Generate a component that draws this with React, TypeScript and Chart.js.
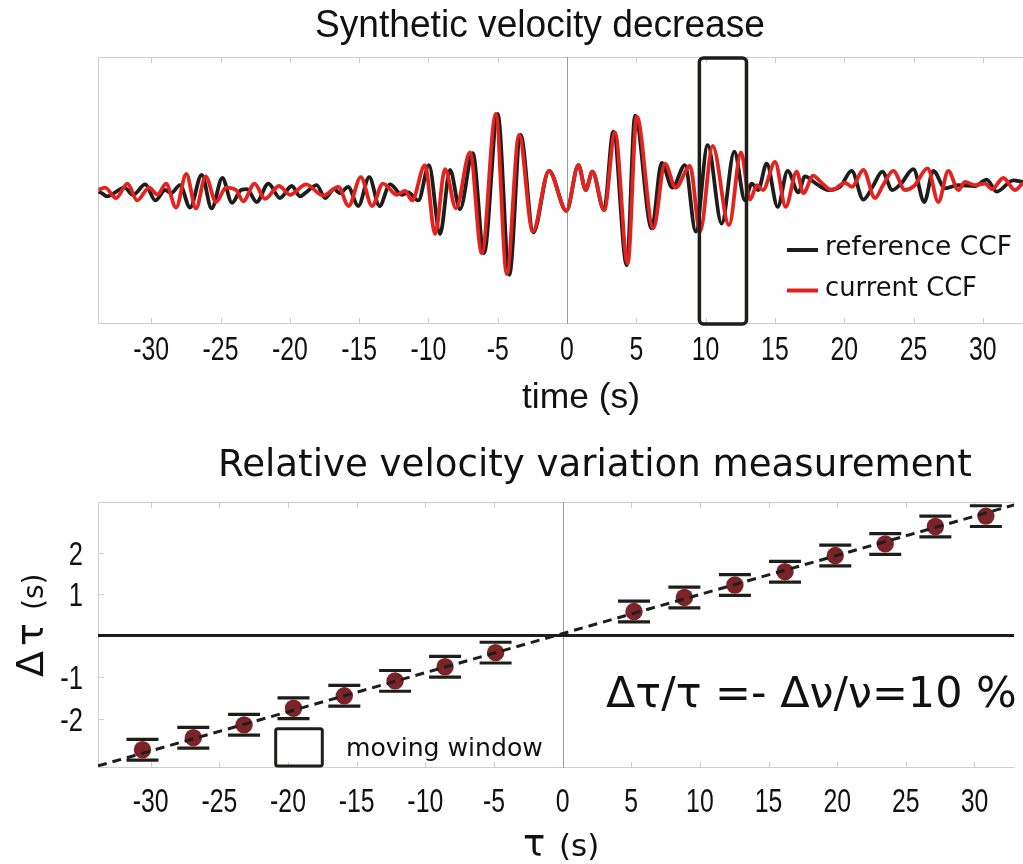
import React, { useEffect, useRef } from 'react';
import { Chart, registerables } from 'chart.js';

Chart.register(...registerables);

// ---------- shared axis ----------
const X_MIN = -33.84;
const X_MAX = 32.9;
const timeTicks = [-30, -25, -20, -15, -10, -5, 0, 5, 10, 15, 20, 25, 30];

// ---------- top panel: cross-correlation functions ----------
const refTime = [
  -33.8, -33.57, -33.19, -31.93, -31.31, -30.43, -29.7, -29.0, -28.57, -27.92,
  -27.2, -26.36, -25.64, -24.87, -24.17, -23.52, -23.09, -22.39, -21.55, -20.71,
  -19.86, -19.26, -18.83, -18.06, -17.46, -16.81, -16.38, -15.8, -15.06, -14.27,
  -13.53, -12.77, -11.9, -11.47, -10.73, -9.96, -9.16, -8.44, -7.72, -6.8,
  -5.99, -5.0, -4.16, -3.35, -2.43, -1.3, -0.04, 0.82, 1.35, 1.83,
  2.67, 3.34, 4.31, 4.91, 6.11, 6.83, 7.6, 8.51, 9.29, 10.15,
  11.16, 12.07, 12.84, 13.33, 13.78, 14.41, 15.2, 15.92, 16.69, 17.17,
  17.89, 18.83, 19.7, 20.54, 21.38, 22.08, 22.75, 23.47, 24.1, 24.99,
  25.78, 26.43, 27.27, 28.21, 29.44, 30.28, 31.0, 32.2, 32.9,
];
const refAmp = [
  -0.02, -0.04, -0.08, 0.03, -0.06, 0.07, -0.13, 0.0, -0.04, 0.06,
  -0.22, 0.19, -0.23, 0.15, -0.16, 0.0, 0.01, -0.15, 0.08, -0.1,
  0.05, -0.08, -0.03, 0.06, -0.1, 0.01, -0.04, 0.04, -0.2, 0.16,
  -0.2, 0.07, -0.06, -0.03, -0.13, 0.31, -0.55, 0.25, -0.24, 0.46,
  -0.79, 0.95, -1.06, 0.69, -0.53, 0.24, -0.26, 0.31, 0.0, 0.23,
  -0.25, 0.73, -0.94, 0.93, -0.48, 0.34, 0.03, 0.31, -0.52, 0.56,
  -0.42, 0.48, -0.13, 0.08, 0.0, 0.33, -0.21, 0.24, -0.03, 0.17,
  0.09, 0.0, 0.04, 0.24, -0.12, 0.05, 0.23, 0.0, 0.08, 0.26,
  -0.15, 0.24, 0.02, 0.06, 0.05, 0.13, -0.02, 0.12, 0.1,
];
const curTime = [
  -33.8, -33.33, -32.54, -31.71, -31.02, -30.14, -29.55, -28.93, -28.21, -27.47,
  -26.77, -26.08, -25.32, -24.6, -23.88, -23.36, -22.55, -21.79, -20.78, -19.99,
  -18.83, -17.6, -16.5, -15.76, -14.88, -14.07, -13.28, -12.27, -11.69, -11.18,
  -10.25, -9.52, -8.8, -8.01, -7.0, -6.15, -5.14, -4.35, -3.46, -2.47,
  -1.3, -0.04, 0.82, 1.35, 1.83, 2.69, 3.46, 4.38, 5.03, 6.23,
  7.07, 7.84, 8.87, 9.6, 10.51, 11.69, 12.55, 13.2, 13.71, 14.14,
  15.01, 15.78, 16.57, 17.05, 17.77, 18.25, 19.1, 20.06, 20.56, 21.38,
  22.22, 22.8, 23.54, 24.39, 25.04, 26.02, 26.79, 27.51, 28.23, 28.72,
  29.44, 30.16, 30.66, 31.48, 32.32, 32.9,
];
const curAmp = [
  0.0, 0.03, -0.1, 0.08, -0.13, 0.03, -0.06, 0.08, -0.22, 0.2,
  -0.23, 0.17, -0.15, 0.03, 0.0, -0.14, 0.08, -0.11, 0.05, -0.06,
  0.07, -0.07, 0.04, -0.2, 0.16, -0.2, 0.08, -0.06, -0.01, -0.13,
  0.31, -0.55, 0.26, -0.23, 0.47, -0.79, 0.95, -1.05, 0.69, -0.52,
  0.24, -0.26, 0.31, 0.0, 0.23, -0.25, 0.72, -0.92, 0.92, -0.48,
  0.33, 0.03, 0.3, -0.52, 0.55, -0.44, 0.47, -0.12, 0.06, 0.0,
  0.35, -0.21, 0.23, -0.04, 0.18, 0.11, 0.0, 0.09, 0.04, 0.25,
  -0.1, 0.06, 0.24, 0.0, 0.05, 0.27, -0.15, 0.24, 0.0, 0.1,
  0.06, 0.08, 0.01, 0.15, 0.0, 0.09,
];
const AMP_MIN = -1.675;
const AMP_MAX = 1.6625;
const windowStart = 9.55;
const windowEnd = 12.95;

// ---------- bottom panel: delay measurements ----------
const lagTime = [-30.6, -26.9, -23.2, -19.6, -15.9, -12.2, -8.56, -4.88, 5.2, 8.87, 12.55, 16.2, 19.86, 23.5, 27.15, 30.83];
const lagDelay = [-2.75, -2.46, -2.15, -1.75, -1.45, -1.09, -0.75, -0.41, 0.58, 0.92, 1.22, 1.54, 1.93, 2.21, 2.63, 2.88];
const lagErr = [0.25, 0.25, 0.25, 0.25, 0.25, 0.25, 0.25, 0.25, 0.25, 0.25, 0.25, 0.25, 0.25, 0.25, 0.25, 0.25];
const fitTime = [-33.84, 32.9];
const fitDelay = [-3.14, 3.15];
const zeroTime = [-33.84, 32.9];
const zeroDelay = [0, 0];
const delayTicks = [-2, -1, 0, 1, 2];
const delayLabels = [-2, -1, 1, 2];
const DELAY_MIN = -3.19;
const DELAY_MAX = 3.22;

// ---------- styles ----------
const SANS = '"Liberation Sans", Arial, sans-serif';
const GOTHIC = '"DejaVu Sans", sans-serif';
const BLACK = '#1d1d1b';
const RED = '#e2231f';
const DOT = '#7b2327';
const FRAME = '#cdcdcd';
const INK = '#111';
const W = 1023;
const TOP_H = 420;
const BOT_TOP = 420;
const BOT_H = 444;

function pts(xs: number[], ys: number[]) {
  return xs.map((x, i) => ({ x, y: ys[i] }));
}

function fitText(ctx: CanvasRenderingContext2D, text: string, family: string, x: number, y: number, width: number) {
  ctx.font = `100px ${family}`;
  const w = ctx.measureText(text).width;
  const size = (100 * width) / w;
  ctx.font = `${size}px ${family}`;
  ctx.textAlign = 'left';
  ctx.textBaseline = 'alphabetic';
  ctx.fillStyle = INK;
  ctx.fillText(text, x, y);
}

// condensed text: fixed size, horizontally squeezed to a width
function squeezeText(ctx: CanvasRenderingContext2D, text: string, size: number, x: number, y: number, width: number) {
  ctx.save();
  ctx.font = `${size}px ${SANS}`;
  const w = ctx.measureText(text).width;
  ctx.translate(x, y);
  ctx.scale(width / w, 1);
  ctx.textAlign = 'left';
  ctx.textBaseline = 'alphabetic';
  ctx.fillStyle = INK;
  ctx.fillText(text, 0, 0);
  ctx.restore();
}

function narrowLabel(ctx: CanvasRenderingContext2D, text: string, size: number, sx: number, x: number, y: number, align: CanvasTextAlign) {
  ctx.save();
  ctx.font = `${size}px ${SANS}`;
  ctx.translate(x, y);
  ctx.scale(sx, 1);
  ctx.textAlign = align;
  ctx.textBaseline = 'alphabetic';
  ctx.fillStyle = INK;
  ctx.fillText(text, 0, 0);
  ctx.restore();
}

function drawFrame(chart: any, withYTicks: boolean) {
  const { ctx, chartArea: a, scales } = chart;
  ctx.save();
  ctx.strokeStyle = FRAME;
  ctx.lineWidth = 1;
  ctx.beginPath();
  ctx.moveTo(a.right, a.top + 0.5);
  ctx.lineTo(a.left + 0.5, a.top + 0.5);
  ctx.lineTo(a.left + 0.5, a.bottom - 0.5);
  ctx.lineTo(a.right, a.bottom - 0.5);
  ctx.stroke();
  ctx.beginPath();
  for (const v of timeTicks) {
    const px = Math.round(scales.x.getPixelForValue(v)) + 0.5;
    ctx.moveTo(px, a.top);
    ctx.lineTo(px, a.top + 6);
    ctx.moveTo(px, a.bottom);
    ctx.lineTo(px, a.bottom - 6);
  }
  if (withYTicks) {
    for (const v of delayTicks) {
      const py = Math.round(scales.y.getPixelForValue(v)) + 0.5;
      ctx.moveTo(a.left, py);
      ctx.lineTo(a.left + 6, py);
    }
  }
  ctx.stroke();
  ctx.strokeStyle = '#9b9b9b';
  ctx.beginPath();
  const x0 = Math.round(scales.x.getPixelForValue(0)) + 0.5;
  ctx.moveTo(x0, a.top);
  ctx.lineTo(x0, a.bottom);
  ctx.stroke();
  ctx.restore();
}

// tick labels placed from the library's own scale ticks
function drawXTickLabels(chart: any, centerY: number) {
  const { ctx, scales } = chart;
  const size = 34;
  const base = centerY + size * 0.716 * 0.5;
  for (const t of scales.x.ticks) {
    narrowLabel(ctx, String(t.value), size, 0.73, scales.x.getPixelForValue(t.value), base, 'center');
  }
}

function xScale(height: number) {
  return {
    type: 'linear',
    min: X_MIN,
    max: X_MAX,
    afterBuildTicks: (s: any) => {
      s.ticks = timeTicks.map((v) => ({ value: v }));
    },
    afterFit: (s: any) => {
      s.height = height;
    },
    grid: { display: false, drawTicks: false },
    border: { display: false },
    ticks: { display: false },
  };
}

const topPlugin = {
  id: 'topDecor',
  beforeDatasetsDraw(chart: any) {
    drawFrame(chart, false);
  },
  afterDraw(chart: any) {
    const { ctx, chartArea: a, scales } = chart;
    ctx.save();
    // moving window box
    const x1 = scales.x.getPixelForValue(windowStart);
    const x2 = scales.x.getPixelForValue(windowEnd);
    ctx.strokeStyle = BLACK;
    ctx.lineWidth = 3.5;
    ctx.beginPath();
    (ctx as any).roundRect(x1, a.top + 1, x2 - x1, a.bottom - a.top - 1, 4);
    ctx.stroke();
    // legend
    ctx.lineWidth = 4;
    ctx.strokeStyle = BLACK;
    ctx.beginPath();
    ctx.moveTo(787, 250);
    ctx.lineTo(818, 250);
    ctx.stroke();
    ctx.strokeStyle = RED;
    ctx.beginPath();
    ctx.moveTo(787, 290.5);
    ctx.lineTo(818, 290.5);
    ctx.stroke();
    fitText(ctx, 'reference CCF', GOTHIC, 825, 255, 187);
    fitText(ctx, 'current CCF', GOTHIC, 825, 295.7, 152);
    // titles and axis labels
    squeezeText(ctx, 'Synthetic velocity decrease', 38, 315, 37, 450);
    squeezeText(ctx, 'time (s)', 35, 522, 408, 118);
    drawXTickLabels(chart, 348);
    ctx.restore();
  },
};

const bottomPlugin = {
  id: 'bottomDecor',
  beforeDatasetsDraw(chart: any) {
    drawFrame(chart, true);
    const { ctx, scales } = chart;
    ctx.save();
    ctx.strokeStyle = BLACK;
    ctx.lineWidth = 3.2;
    ctx.beginPath();
    lagTime.forEach((t, i) => {
      const px = scales.x.getPixelForValue(t);
      const pHi = scales.y.getPixelForValue(lagDelay[i] + lagErr[i]);
      const pLo = scales.y.getPixelForValue(lagDelay[i] - lagErr[i]);
      ctx.moveTo(px - 16, pHi);
      ctx.lineTo(px + 16, pHi);
      ctx.moveTo(px - 16, pLo);
      ctx.lineTo(px + 16, pLo);
    });
    ctx.stroke();
    ctx.restore();
  },
  afterDraw(chart: any) {
    const { ctx, scales } = chart;
    ctx.save();
    fitText(ctx, 'Relative velocity variation measurement', GOTHIC, 218, 476 - BOT_TOP, 754);
    fitText(ctx, 'Δτ/τ =- Δν/ν=10 %', GOTHIC, 606, 706.7 - BOT_TOP, 411);
    // moving window legend
    ctx.strokeStyle = BLACK;
    ctx.lineWidth = 3;
    ctx.beginPath();
    (ctx as any).roundRect(275.7, 728.7 - BOT_TOP, 46.6, 37.3, 2);
    ctx.stroke();
    fitText(ctx, 'moving window', GOTHIC, 346, 755.7 - BOT_TOP, 197);
    // tick labels
    drawXTickLabels(chart, 800 - BOT_TOP);
    for (const t of scales.y.ticks) {
      const py = scales.y.getPixelForValue(t.value);
      narrowLabel(ctx, String(t.value), 34, 0.75, 83, py + 34 * 0.716 * 0.5, 'right');
    }
    // y axis title
    ctx.save();
    ctx.translate(43, 677 - BOT_TOP);
    ctx.rotate(-Math.PI / 2);
    ctx.fillStyle = INK;
    ctx.textBaseline = 'alphabetic';
    ctx.textAlign = 'left';
    ctx.font = `38px ${GOTHIC}`;
    ctx.fillText('Δ', 0, 0);
    ctx.fillText('τ', 31, 0);
    ctx.font = `28px ${GOTHIC}`;
    ctx.fillText('(s)', 67, 0);
    ctx.restore();
    // x axis title
    ctx.fillStyle = INK;
    ctx.textBaseline = 'alphabetic';
    ctx.textAlign = 'left';
    ctx.font = `37px ${GOTHIC}`;
    ctx.fillText('τ', 523, 856 - BOT_TOP);
    ctx.font = `31px ${GOTHIC}`;
    ctx.fillText('(s)', 559, 856 - BOT_TOP);
    ctx.restore();
  },
};

export default function App() {
  const topRef = useRef<HTMLCanvasElement>(null);
  const botRef = useRef<HTMLCanvasElement>(null);

  useEffect(() => {
    const common = {
      responsive: false,
      animation: false,
      devicePixelRatio: 1,
      events: [],
      plugins: { legend: { display: false }, tooltip: { enabled: false }, title: { display: false } },
    };
    const top = new Chart(topRef.current as HTMLCanvasElement, {
      type: 'line',
      data: {
        datasets: [
          {
            label: 'current CCF',
            data: pts(curTime, curAmp),
            borderColor: RED,
            borderWidth: 3.8,
            pointRadius: 0,
            cubicInterpolationMode: 'monotone',
            order: 0,
          },
          {
            label: 'reference CCF',
            data: pts(refTime, refAmp),
            borderColor: BLACK,
            borderWidth: 3.8,
            pointRadius: 0,
            cubicInterpolationMode: 'monotone',
            order: 1,
          },
        ],
      },
      options: {
        ...common,
        parsing: false,
        layout: { padding: { top: 57, left: 98, right: 0, bottom: 0 } },
        scales: {
          x: xScale(TOP_H - 324),
          y: { type: 'linear', display: false, min: AMP_MIN, max: AMP_MAX },
        },
      } as any,
      plugins: [topPlugin],
    } as any);

    const bot = new Chart(botRef.current as HTMLCanvasElement, {
      type: 'scatter',
      data: {
        datasets: [
          {
            type: 'line',
            label: 'fit',
            data: pts(fitTime, fitDelay),
            borderColor: BLACK,
            borderWidth: 3,
            borderDash: [9, 6],
            pointRadius: 0,
            order: 0,
          },
          {
            label: 'delay',
            data: pts(lagTime, lagDelay),
            backgroundColor: DOT,
            borderWidth: 0,
            pointRadius: 8.7,
            order: 1,
          },
          {
            type: 'line',
            label: 'zero',
            data: pts(zeroTime, zeroDelay),
            borderColor: BLACK,
            borderWidth: 3,
            pointRadius: 0,
            order: 2,
          },
        ],
      },
      options: {
        ...common,
        layout: { padding: { top: 502 - BOT_TOP, left: 0, right: 0, bottom: 0 } },
        scales: {
          x: xScale(BOT_H - (768 - BOT_TOP)),
          y: {
            type: 'linear',
            min: DELAY_MIN,
            max: DELAY_MAX,
            afterBuildTicks: (s: any) => {
              s.ticks = delayLabels.map((v) => ({ value: v }));
            },
            afterFit: (s: any) => {
              s.width = 98;
            },
            grid: { display: false, drawTicks: false },
            border: { display: false },
            ticks: { display: false },
          },
        },
      } as any,
      plugins: [bottomPlugin],
    } as any);

    return () => {
      top.destroy();
      bot.destroy();
    };
  }, []);

  return (
    <div style={{ position: 'fixed', left: 0, top: 0, width: W, height: 864, background: '#fff' }}>
      <canvas ref={topRef} width={W} height={TOP_H} style={{ position: 'absolute', left: 0, top: 0, width: W, height: TOP_H }} />
      <canvas ref={botRef} width={W} height={BOT_H} style={{ position: 'absolute', left: 0, top: BOT_TOP, width: W, height: BOT_H }} />
    </div>
  );
}
